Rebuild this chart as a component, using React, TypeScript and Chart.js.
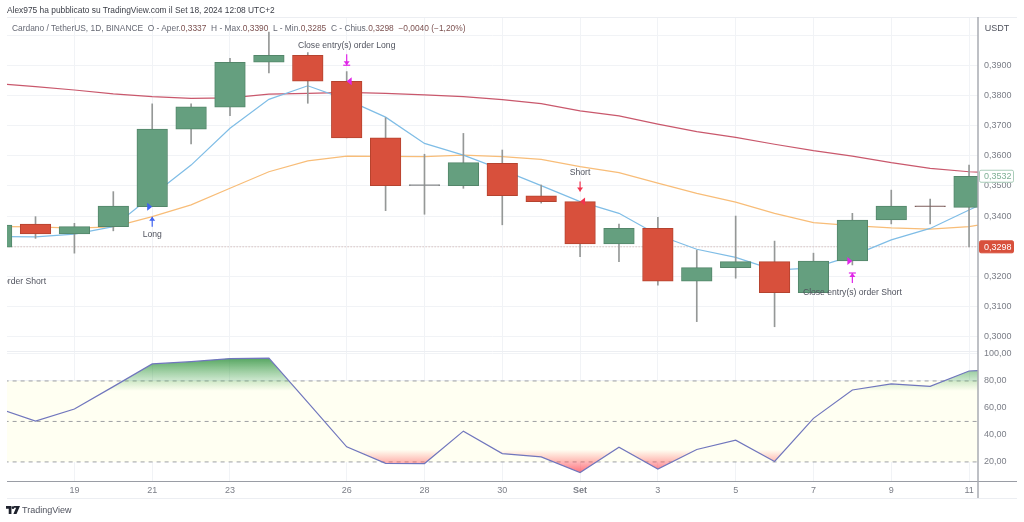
import React, { useEffect, useRef } from "react";
import { Chart, registerables } from "chart.js";

Chart.register(...registerables);

// Daily candles, 17 Aug -> 11 Sep 2024 (day index 0 = 17 Aug)
const opens = [0.3297, 0.3373, 0.3341, 0.3365, 0.3431, 0.3688, 0.3761, 0.391, 0.3933, 0.3847, 0.3659, 0.3501, 0.3501, 0.3575, 0.3467, 0.3448, 0.3308, 0.3359, 0.3184, 0.3229, 0.3249, 0.3146, 0.3251, 0.3387, 0.3433, 0.3429];
const closes = [0.337, 0.3341, 0.3365, 0.3433, 0.3688, 0.3762, 0.391, 0.3933, 0.3847, 0.3659, 0.3501, 0.3501, 0.3577, 0.3468, 0.3448, 0.3308, 0.3359, 0.3184, 0.3229, 0.3249, 0.3146, 0.3251, 0.3387, 0.3433, 0.3431, 0.3532];
const highs = [0.3375, 0.3398, 0.3376, 0.3481, 0.3772, 0.3772, 0.3923, 0.401, 0.3942, 0.3879, 0.3726, 0.3605, 0.3674, 0.3619, 0.3503, 0.3448, 0.3373, 0.3396, 0.3287, 0.34, 0.3317, 0.3277, 0.3409, 0.3486, 0.3456, 0.3569];
const lows = [0.3285, 0.3326, 0.3277, 0.3351, 0.3431, 0.3639, 0.3733, 0.3875, 0.3774, 0.3659, 0.3418, 0.3406, 0.3492, 0.3371, 0.3443, 0.3265, 0.3249, 0.3171, 0.305, 0.3194, 0.3033, 0.3146, 0.3238, 0.3374, 0.3374, 0.3298];

// These run one day further than the candles; the plot cuts them off at its right edge
const fastAverage = [0.3332, 0.3331, 0.334, 0.3365, 0.3468, 0.3569, 0.3691, 0.3787, 0.3832, 0.3786, 0.3728, 0.3641, 0.3602, 0.3553, 0.3501, 0.3448, 0.3409, 0.3337, 0.329, 0.3263, 0.3221, 0.3228, 0.3268, 0.3321, 0.3359, 0.342, 0.348];
const midAverage = [0.3365, 0.3364, 0.336, 0.3364, 0.3398, 0.3437, 0.3492, 0.3547, 0.3583, 0.3599, 0.3598, 0.3597, 0.3602, 0.3597, 0.3588, 0.3564, 0.3544, 0.3509, 0.3475, 0.3446, 0.3409, 0.3378, 0.3368, 0.3361, 0.3357, 0.3365, 0.3385];
const slowAverage = [0.3839, 0.3829, 0.3818, 0.3805, 0.3796, 0.379, 0.3792, 0.3804, 0.3807, 0.381, 0.3807, 0.3802, 0.3796, 0.3786, 0.3773, 0.3749, 0.3732, 0.3705, 0.368, 0.3661, 0.3638, 0.3617, 0.3599, 0.3577, 0.3558, 0.3547, 0.3541];
const oscillator = [60, 50.3, 59.2, 75.8, 92.6, 94.3, 96.6, 96.9, 64.2, 31.2, 19, 18.8, 42.8, 26.2, 23.7, 12.1, 30.9, 14.8, 29.2, 36.1, 20.3, 52.3, 73.3, 77.8, 76, 87.4, 88.6];

const dayTicks = [2, 4, 6, 9, 11, 13, 15, 17, 19, 21, 23, 25];
const dayTickLabels = ["19", "21", "23", "26", "28", "30", "Set", "3", "5", "7", "9", "11"];
const priceTicks = [0.3, 0.31, 0.32, 0.33, 0.34, 0.35, 0.36, 0.37, 0.38, 0.39, 0.4];
const oscillatorTicks = [20, 40, 60, 80, 100];
const oscillatorLevels = [80, 50, 20];
const lastClose = 0.3298;
const lastBarClose = 0.3532;

const signalLabels = ["Long", "Close entry(s) order Long", "Short", "Close entry(s) order Short", "Close entry(s) order Short"];
const signalDays = [4, 9, 15, 22, 0];
const signalPrices = [0.3431, 0.3847, 0.3448, 0.3251, 0.3288];
const signalKinds = ["long", "closeLong", "short", "closeShort", "closeShortTextOnly"];

const GREEN = "#659f7f";
const GREEN_EDGE = "#53866a";
const RED = "#d8503c";
const RED_EDGE = "#b5432f";
const WICK = "#959897";
const AXIS_TEXT = "#7b7e87";
const GRID = "#f1f3f6";
const FONT = "'Liberation Sans', Arial, sans-serif";
const SMALL = 9;
const SIGNAL_TEXT = 8.6;

const fmtPrice = (v: number) => v.toFixed(4).replace(".", ",");

const frame = {
  id: "frame",
  afterDraw(chart: any) {
    const { ctx, scales, chartArea } = chart;
    const y = scales.y;
    const o = scales.yOsc;
    const right = chartArea.right;
    const xs = scales.x;
    ctx.save();

    // panel rules
    ctx.strokeStyle = "#eceef2";
    ctx.lineWidth = 1;
    ctx.beginPath();
    ctx.moveTo(chartArea.left, 17.5);
    ctx.lineTo(1017, 17.5);
    ctx.moveTo(chartArea.left, y.bottom + 0.5);
    ctx.lineTo(right, y.bottom + 0.5);
    ctx.moveTo(chartArea.left, 498.5);
    ctx.lineTo(1017, 498.5);
    ctx.stroke();

    ctx.strokeStyle = "#9a9da5";
    ctx.lineWidth = 1.2;
    ctx.beginPath();
    ctx.moveTo(chartArea.left, o.bottom + 0.5);
    ctx.lineTo(1017, o.bottom + 0.5);
    ctx.stroke();

    ctx.strokeStyle = "#a8abb2";
    ctx.lineWidth = 1.5;
    ctx.beginPath();
    ctx.moveTo(right, 17);
    ctx.lineTo(right, 498);
    ctx.stroke();

    // signals
    ctx.save();
    ctx.beginPath();
    ctx.rect(chartArea.left, y.top, right - chartArea.left, y.bottom - y.top);
    ctx.clip();
    signalLabels.forEach((label, i) => {
      const cx = xs.getPixelForValue(signalDays[i]);
      const py = y.getPixelForValue(signalPrices[i]);
      const kind = signalKinds[i];
      ctx.font = `${SIGNAL_TEXT}px ${FONT}`;
      ctx.fillStyle = "#50535e";
      ctx.textAlign = "center";
      ctx.textBaseline = "middle";
      const isLong = kind === "long";
      const isShort = kind === "short";
      const isCL = kind === "closeLong";
      const isCS = kind === "closeShort";
      const textY = isLong ? py + 28 : isShort ? py - 29 : isCL ? py - 36 : py + 32;
      ctx.fillText(label, cx, textY);
      if (kind === "closeShortTextOnly") return;
      const col = isLong ? "#3f62f0" : isShort ? "#f2344f" : "#e025e8";
      ctx.strokeStyle = col;
      ctx.fillStyle = col;
      ctx.lineWidth = 1.2;
      const down = isShort || isCL;
      const a = isLong ? py + 10 : isShort ? py - 10 : isCL ? py - 16 : py + 12; // near tip
      const b = isLong ? py + 20 : isShort ? py - 20 : isCL ? py - 27 : py + 22; // tail
      ctx.beginPath();
      ctx.moveTo(cx, a);
      ctx.lineTo(cx, b);
      ctx.stroke();
      ctx.beginPath();
      ctx.moveTo(cx, a);
      ctx.lineTo(cx - 3, a + (down ? -4 : 4));
      ctx.lineTo(cx + 3, a + (down ? -4 : 4));
      ctx.closePath();
      ctx.fill();
      if (isCL || isCS) {
        ctx.beginPath();
        ctx.moveTo(cx - 3.5, a);
        ctx.lineTo(cx + 3.5, a);
        ctx.stroke();
      }
      // entry tick
      const leftward = isShort || isCL;
      const tx = cx + (leftward ? 3 : -3);
      ctx.beginPath();
      ctx.moveTo(tx + (leftward ? -3 : 3), py);
      ctx.lineTo(tx + (leftward ? 2 : -2), py - 4);
      ctx.lineTo(tx + (leftward ? 2 : -2), py + 4);
      ctx.closePath();
      ctx.fill();
    });
    ctx.restore();

    // last-value tags
    const tag = (value: number, fill: string, edge: string, color: string) => {
      const ty = y.getPixelForValue(value);
      ctx.fillStyle = fill;
      ctx.strokeStyle = edge;
      ctx.lineWidth = 1;
      ctx.beginPath();
      ctx.roundRect(979.5, ty - 6, 34, 12, 1.5);
      ctx.fill();
      ctx.stroke();
      ctx.fillStyle = color;
      ctx.font = `${SMALL}px ${FONT}`;
      ctx.textAlign = "left";
      ctx.textBaseline = "middle";
      ctx.fillText(fmtPrice(value), 984, ty + 0.5);
    };
    tag(lastBarClose, "#ffffff", "#a9cdb9", "#7fb096");
    tag(lastClose, RED, RED, "#ffffff");

    ctx.fillStyle = "#50535e";
    ctx.font = `${SMALL}px ${FONT}`;
    ctx.textAlign = "center";
    ctx.textBaseline = "middle";
    ctx.fillText("USDT", 997, 29);
    ctx.restore();
  },
};

export default function App() {
  const ref = useRef<HTMLCanvasElement | null>(null);

  useEffect(() => {
    if (!ref.current) return;
    const days = opens.map((_, i) => i);
    const series = (values: number[]) => values.map((y, i) => ({ x: i, y }));
    const levelLine = (value: number) => [
      { x: 0, y: value },
      { x: fastAverage.length - 1, y: value },
    ];
    const bodyFill = (i: number) => {
      const d = closes[i] - opens[i];
      if (d === 0) return "#85888a";
      if (Math.abs(d) < 0.0003) return "#7f5f5c";
      return d > 0 ? GREEN : RED;
    };
    const bodyEdge = (i: number) => {
      const d = closes[i] - opens[i];
      if (Math.abs(d) < 0.0003) return bodyFill(i);
      return d > 0 ? GREEN_EDGE : RED_EDGE;
    };

    const overbought = (ctx: any) => {
      const { chart } = ctx;
      if (!chart.chartArea) return "transparent";
      const o = chart.scales.yOsc;
      const g = chart.ctx.createLinearGradient(0, o.getPixelForValue(100), 0, o.getPixelForValue(72.6));
      g.addColorStop(0, "rgba(52,145,66,0.95)");
      g.addColorStop(1, "rgba(76,175,80,0)");
      return g;
    };
    const oversold = (ctx: any) => {
      const { chart } = ctx;
      if (!chart.chartArea) return "transparent";
      const o = chart.scales.yOsc;
      const g = chart.ctx.createLinearGradient(0, o.getPixelForValue(8), 0, o.getPixelForValue(29));
      g.addColorStop(0, "rgba(255,70,85,0.95)");
      g.addColorStop(1, "rgba(255,82,82,0)");
      return g;
    };

    const lineBase = { type: "line", pointRadius: 0, tension: 0, fill: false, xAxisID: "x" };

    const chart = new Chart(ref.current, {
      type: "bar",
      data: {
        datasets: [
          {
            label: "Body",
            type: "bar",
            order: 0,
            xAxisID: "x",
            yAxisID: "y",
            data: days.map((x, i) => ({ x, y: [opens[i], closes[i]] })),
            backgroundColor: days.map(bodyFill),
            borderColor: days.map(bodyEdge),
            borderWidth: 1,
            borderSkipped: false,
            barThickness: 30.6,
            grouped: false,
            minBarLength: 1,
          },
          {
            label: "Wick",
            type: "bar",
            order: 1,
            xAxisID: "x",
            yAxisID: "y",
            data: days.map((x, i) => ({ x, y: [lows[i], highs[i]] })),
            backgroundColor: WICK,
            barThickness: 1,
            grouped: false,
          },
          { ...lineBase, label: "Fast", order: 2, yAxisID: "y", data: series(fastAverage), borderColor: "#7fbde6", borderWidth: 1.2 },
          { ...lineBase, label: "Mid", order: 3, yAxisID: "y", data: series(midAverage), borderColor: "#f8bd78", borderWidth: 1.2 },
          { ...lineBase, label: "Slow", order: 4, yAxisID: "y", data: series(slowAverage), borderColor: "#c9586c", borderWidth: 1.2 },
          {
            ...lineBase,
            label: "Last",
            order: 5,
            yAxisID: "y",
            data: levelLine(lastClose),
            borderColor: "#c9a9a4",
            borderWidth: 1,
            borderDash: [1, 2],
          },
          {
            ...lineBase,
            label: "Oscillator",
            order: 6,
            yAxisID: "yOsc",
            data: series(oscillator),
            borderColor: "#7076bd",
            borderWidth: 1.2,
            fill: { target: { value: 72.6 }, below: "rgba(0,0,0,0)" },
            backgroundColor: overbought,
          },
          {
            ...lineBase,
            label: "Oscillator low",
            order: 7,
            yAxisID: "yOsc",
            data: series(oscillator),
            borderWidth: 0,
            borderColor: "rgba(0,0,0,0)",
            fill: { target: { value: 29 }, above: "rgba(0,0,0,0)" },
            backgroundColor: oversold,
          },
          ...oscillatorLevels.map((level, i) => ({
            ...lineBase,
            label: `Level ${level}`,
            order: 10 - i,
            yAxisID: "yOsc",
            data: levelLine(level),
            borderColor: "rgba(125,128,138,0.75)",
            borderWidth: 1,
            borderDash: [4, 4],
            fill: i === 0 ? { target: { value: oscillatorLevels[2] } } : false,
            backgroundColor: "#fffff2",
          })),
        ] as any,
      },
      options: {
        animation: false,
        responsive: false,
        layout: { padding: { left: 7, right: 0, top: 17, bottom: 24 } },
        plugins: { legend: { display: false }, tooltip: { enabled: false } },
        scales: {
          x: {
            type: "linear",
            offset: false,
            min: 0.267,
            max: 25.23,
            grid: { offset: false, color: GRID, drawTicks: false },
            border: { display: false },
            afterBuildTicks: (s: any) => {
              s.ticks = dayTicks.map((value) => ({ value }));
            },
            afterFit: (s: any) => {
              s.height = 17;
            },
            ticks: {
              autoSkip: false,
              maxRotation: 0,
              padding: 4,
              color: AXIS_TEXT,
              font: (c: any) => ({
                size: SMALL,
                family: FONT,
                weight: c.tick && dayTickLabels[dayTicks.indexOf(c.tick.value)] === "Set" ? "bold" : "normal",
              }),
              callback: (v: any) => dayTickLabels[dayTicks.indexOf(v)] ?? "",
            },
          },
          y: {
            type: "linear",
            position: "right",
            stack: "panels",
            stackWeight: 334,
            min: 0.29526,
            max: 0.406,
            grid: { color: GRID, drawTicks: false },
            border: { display: false },
            afterBuildTicks: (s: any) => {
              s.ticks = priceTicks.map((value) => ({ value }));
            },
            afterFit: (s: any) => {
              s.width = 46;
            },
            ticks: {
              autoSkip: false,
              padding: 6,
              color: AXIS_TEXT,
              font: { size: SMALL, family: FONT },
              callback: (v: any) => (v >= priceTicks[priceTicks.length - 1] ? "" : fmtPrice(v)),
            },
          },
          yOsc: {
            type: "linear",
            position: "right",
            stack: "panels",
            stackWeight: 130,
            min: 5.87,
            max: 102.2,
            grid: { color: GRID, drawTicks: false },
            border: { display: false },
            afterBuildTicks: (s: any) => {
              s.ticks = oscillatorTicks.map((value) => ({ value }));
            },
            afterFit: (s: any) => {
              s.width = 46;
            },
            ticks: {
              autoSkip: false,
              padding: 6,
              color: AXIS_TEXT,
              font: { size: SMALL, family: FONT },
              callback: (v: any) => v.toFixed(2).replace(".", ","),
            },
          },
        },
      } as any,
      plugins: [frame],
    } as any);
    return () => chart.destroy();
  }, []);

  const value = { color: "#7c5150" };
  return (
    <div style={{ position: "absolute", left: 0, top: 0, width: 1024, height: 522, background: "#fff", overflow: "hidden", fontFamily: FONT }}>
      <canvas ref={ref} width={1024} height={522} style={{ position: "absolute", left: 0, top: 0, width: 1024, height: 522 }} />
      <div style={{ position: "absolute", left: 7, top: 3, fontSize: 8.4, lineHeight: "14px", color: "#3a3d46", whiteSpace: "nowrap" }}>
        Alex975 ha pubblicato su TradingView.com il Set 18, 2024 12:08 UTC+2
      </div>
      <div style={{ position: "absolute", left: 12, top: 21, fontSize: 8.4, lineHeight: "14px", color: "#666974", whiteSpace: "pre" }}>
        {"Cardano / TetherUS, 1D, BINANCE  O - Aper."}
        <span style={value}>0,3337</span>
        {"  H - Max."}
        <span style={value}>0,3390</span>
        {"  L - Min."}
        <span style={value}>0,3285</span>
        {"  C - Chius."}
        <span style={value}>0,3298</span>
        <span style={value}>{"  −0,0040 (−1,20%)"}</span>
      </div>
      <svg width="14" height="8" viewBox="0 0 36 20" style={{ position: "absolute", left: 6, top: 506 }}>
        <path d="M0 0h14v20H7V7H0z M20 0h16l-9 20h-8l7-16h-6z" fill="#1e222d" />
        <circle cx="18" cy="4" r="3.5" fill="#1e222d" />
      </svg>
      <div style={{ position: "absolute", left: 22, top: 503, fontSize: 9, lineHeight: "15px", color: "#50535e" }}>TradingView</div>
    </div>
  );
}
